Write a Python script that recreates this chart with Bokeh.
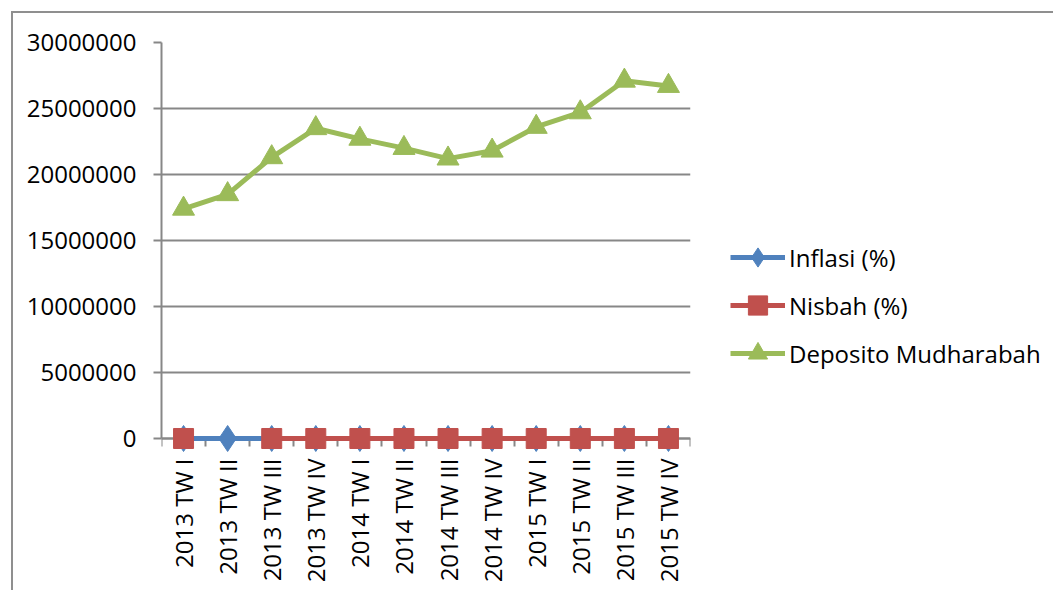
from bokeh.plotting import figure
from bokeh.models import (Range1d, FixedTicker, NumeralTickFormatter, Legend, LegendItem,
                          ColumnDataSource)
from bokeh.embed import file_html
from bokeh.resources import INLINE
import math

categories = ["2013 TW I", "2013 TW II", "2013 TW III", "2013 TW IV",
              "2014 TW I", "2014 TW II", "2014 TW III", "2014 TW IV",
              "2015 TW I", "2015 TW II", "2015 TW III", "2015 TW IV"]
inflasi = [5.90, 5.90, 8.40, 8.38, 7.32, 6.70, 4.53, 8.36, 6.38, 7.26, 6.83, 3.35]
nisbah = [6.5, float("nan"), 6.2, 6.0, 6.1, 6.3, 6.0, 5.9, 6.2, 6.1, 6.0, 5.8]
deposito = [17400000, 18500000, 21300000, 23500000, 22700000, 22000000,
            21200000, 21800000, 23600000, 24700000, 27100000, 26700000]
y_ticks = [0, 5000000, 10000000, 15000000, 20000000, 25000000, 30000000]

FONT = "Open Sans"
FS = "24px"
GRID = "#878787"

# layout (pixels)
PLOT_H = 396          # pixels from 0 to 30,000,000
EXTRA = 152           # frame extends below the zero line (room for markers and labels)
y_max = y_ticks[-1]
y_min = -EXTRA * y_max / PLOT_H

xs = [i + 0.5 for i in range(len(categories))]
bounds = list(range(len(categories) + 1))

p = figure(frame_width=529, frame_height=PLOT_H + EXTRA, output_backend="svg",
           toolbar_location=None,
           x_range=Range1d(0, len(categories)), y_range=Range1d(y_min, y_max),
           min_border_left=148, min_border_top=29, min_border_right=363, min_border_bottom=0,
           margin=(11, 0, 0, 11))
p.styles = {"border-top": "2px solid #8f8f8f", "border-left": "2px solid #8f8f8f"}
p.outline_line_color = None
p.background_fill_color = "white"
p.border_fill_color = "white"

# x axis (drawn at y = 0)
p.xaxis.fixed_location = 0
p.xaxis.ticker = FixedTicker(ticks=xs, minor_ticks=bounds)
p.xaxis.major_label_overrides = {x: c for x, c in zip(xs, categories)}
p.xaxis.major_tick_out = 0
p.xaxis.major_tick_in = 0
p.xaxis.minor_tick_out = 8
p.xaxis.minor_tick_in = 0
p.xaxis.minor_tick_line_color = GRID
p.xaxis.minor_tick_line_width = 2
p.xaxis.axis_line_color = GRID
p.xaxis.axis_line_width = 2
p.xaxis.major_label_orientation = math.pi / 2
p.xaxis.major_label_standoff = 12
p.xaxis.major_label_text_font = FONT
p.xaxis.major_label_text_font_size = FS
p.xaxis.major_label_text_color = "black"
p.xgrid.grid_line_color = None

# y axis
p.yaxis.bounds = (0, y_max)
p.yaxis.ticker = FixedTicker(ticks=y_ticks)
p.yaxis.formatter = NumeralTickFormatter(format="0")
p.yaxis.major_tick_out = 8
p.yaxis.major_tick_in = 0
p.yaxis.minor_tick_line_color = None
p.yaxis.major_tick_line_color = GRID
p.yaxis.major_tick_line_width = 2
p.yaxis.axis_line_color = GRID
p.yaxis.axis_line_width = 2
p.yaxis.major_label_standoff = 17
p.yaxis.major_label_text_font = FONT
p.yaxis.major_label_text_font_size = FS
p.yaxis.major_label_text_color = "black"
p.ygrid.ticker = FixedTicker(ticks=y_ticks)
p.ygrid.grid_line_color = GRID
p.ygrid.grid_line_width = 2

src = ColumnDataSource(dict(x=xs, inflasi=inflasi, nisbah=nisbah, deposito=deposito))

BLUE, RED, GREEN = "#4F81BD", "#C0504D", "#9BBB59"
l1 = p.line("x", "inflasi", source=src, color=BLUE, line_width=5, level="overlay")
m1 = p.scatter("x", "inflasi", source=src, marker="diamond", size=26, color=BLUE, level="overlay")
l2 = p.line("x", "nisbah", source=src, color=RED, line_width=5, level="overlay")
m2 = p.scatter("x", "nisbah", source=src, marker="square", size=20, color=RED, level="overlay")
l3 = p.line("x", "deposito", source=src, color=GREEN, line_width=5, level="overlay")
m3 = p.scatter("x", "deposito", source=src, marker="triangle", size=22, color=GREEN, level="overlay")

legend = Legend(items=[LegendItem(label="Inflasi (%)", renderers=[l1, m1]),
                       LegendItem(label="Nisbah (%)", renderers=[l2, m2]),
                       LegendItem(label="Deposito Mudharabah", renderers=[l3, m3])],
                location=(40, 61 + EXTRA), padding=0, margin=0, spacing=0,
                glyph_width=55, glyph_height=48, label_height=48, label_standoff=4,
                border_line_color=None, background_fill_alpha=0,
                label_text_font=FONT, label_text_font_size=FS, label_text_color="black")
p.add_layout(legend, "right")

open("out.html", "w").write(file_html(p, INLINE))
